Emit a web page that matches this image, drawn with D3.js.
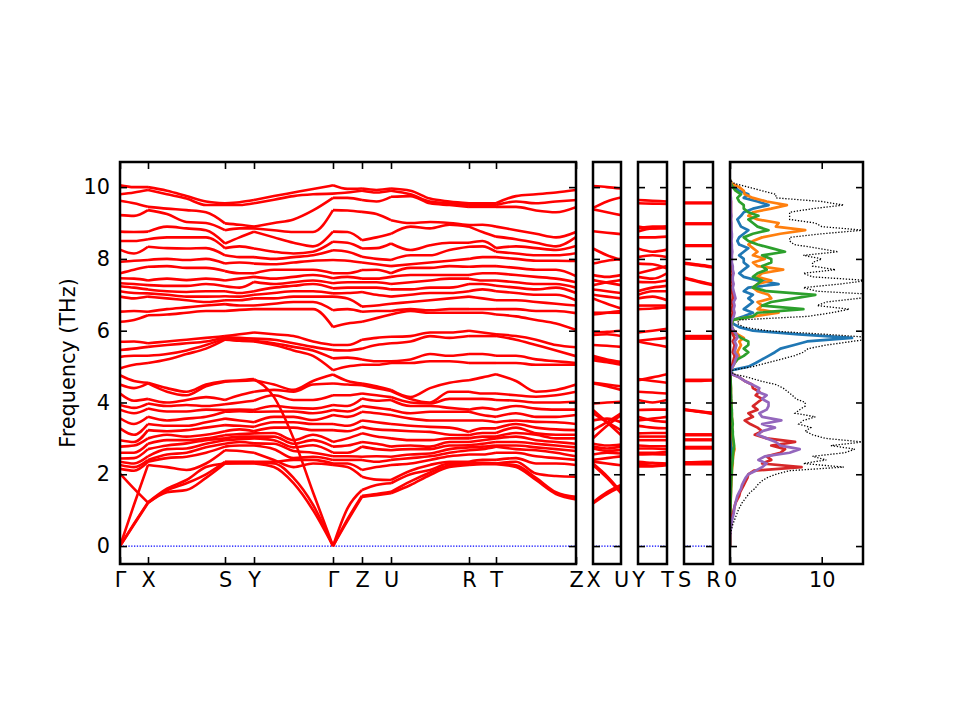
<!DOCTYPE html>
<html>
<head>
<meta charset="utf-8">
<script src="https://cdn.jsdelivr.net/npm/d3@7"></script>
<style>
  body { margin: 0; background: #fff; }
  svg { font-family: "DejaVu Sans", sans-serif; }
</style>
</head>
<body>
<div id="svg-area"></div>
<script>
var svgWidth = 960;
var svgHeight = 720;

// high-symmetry path
var pathLabels = ["Γ", "X", "S", "Y", "Γ", "Z", "U", "R", "T", "Z"];
var pathTicks = [0, 0.28, 1.05, 1.34, 2.13, 2.42, 2.71, 3.49, 3.76, 4.56];
// sampled q positions along the path (labels sit at index 0,2,6,8,12,14,16,20,22,26)
var kPoints = [0, 0.14, 0.28, 0.47, 0.665, 0.86, 1.05, 1.195, 1.34, 1.54, 1.735, 1.93, 2.13,
  2.275, 2.42, 2.565, 2.71, 2.905, 3.10, 3.295, 3.49, 3.625, 3.76, 3.96, 4.16, 4.36, 4.56];
var labelIndex = [0, 2, 6, 8, 12, 14, 16, 20, 22, 26];

// frequencies (THz) at each q point, lower group of branches
var lowBands = [
  [0, 0, 0, 2.02, 2.15, 2.26, 2.35, 2.44, 2.6, 2.77, 2.95, 3.28, 3.56, 3.8, 3.93, 4.25, 4.5, 4.76],
  [0.6, 0.62, 1.15, 1.6, 2.1, 2.2, 2.3, 2.45, 2.6, 2.8, 2.9, 3.1, 3.4, 3.7, 3.85, 4.05, 4.4, 4.6],
  [1.2, 1.22, 2.26, 1.21, 2.35, 2.4, 2.5, 2.7, 2.85, 3.0, 3.23, 3.4, 3.6, 3.83, 3.97, 4.1, 4.53, 4.55],
  [1.5, 1.6, 2.2, 1.55, 2.45, 2.55, 2.7, 2.8, 2.95, 3.1, 3.2, 3.35, 3.5, 3.75, 3.9, 4.0, 4.3, 4.4],
  [1.56, 1.84, 2.12, 1.75, 2.49, 2.6, 2.72, 2.86, 2.95, 3.05, 3.23, 3.35, 3.55, 3.75, 3.93, 4.07, 4.2, 4.3],
  [1.9, 2.2, 2.3, 2.0, 2.6, 2.75, 2.85, 2.95, 3.0, 3.1, 3.3, 3.45, 3.6, 3.8, 3.9, 4.15, 4.45, 4.5],
  [2.3, 2.3, 2.67, 2.35, 2.77, 2.85, 2.95, 3.0, 3.09, 3.2, 3.37, 3.55, 3.74, 3.79, 3.95, 4.07, 4.58, 4.6],
  [2.3, 2.32, 2.65, 2.35, 2.8, 2.9, 2.98, 3.05, 3.12, 3.25, 3.35, 3.5, 3.76, 3.8, 4.0, 4.2, 4.6, 4.62],
  [2.3, 2.32, 2.6, 2.35, 2.8, 2.86, 3.0, 3.05, 3.14, 3.2, 3.32, 3.45, 3.74, 3.79, 4.05, 4.3, 4.62, 4.65],
  [2.2, 2.3, 2.4, 2.35, 2.7, 2.85, 2.95, 3.05, 3.15, 3.3, 3.45, 3.6, 3.75, 3.9, 4.2, 4.35, 4.5, 4.15],
  [1.75, 1.9, 2.2, 2.4, 2.45, 2.65, 2.75, 2.85, 2.95, 3.3, 3.45, 3.6, 3.75, 3.85, 4.07, 4.3, 4.35, 3.0],
  [1.0, 1.15, 2.3, 2.4, 2.49, 2.6, 2.81, 2.95, 3.1, 3.23, 3.4, 3.51, 3.7, 3.83, 4.07, 4.5, 4.6, 1.5],
  [0, 0, 2.26, 2.3, 2.4, 2.5, 2.6, 2.77, 2.9, 3.23, 3.4, 3.65, 3.79, 3.93, 4.2, 4.53, 4.78, 0],
  [0.7, 0.75, 2.2, 2.3, 2.4, 2.5, 2.6, 2.8, 3.0, 3.2, 3.35, 3.6, 3.75, 3.9, 4.2, 4.5, 4.6, 1.05],
  [1.37, 1.4, 1.93, 2.12, 2.4, 2.49, 2.77, 2.9, 3.14, 3.32, 3.5, 3.74, 3.9, 4.11, 4.25, 4.48, 4.53, 1.56],
  [1.42, 1.45, 1.85, 2.2, 2.35, 2.5, 2.7, 2.85, 3.05, 3.25, 3.45, 3.7, 3.85, 4.05, 4.2, 4.4, 4.45, 1.7],
  [1.47, 1.51, 1.84, 2.26, 2.4, 2.49, 2.67, 2.77, 3.0, 3.23, 3.4, 3.65, 3.8, 4.07, 4.15, 4.32, 4.35, 1.75],
  [1.7, 1.8, 2.1, 2.3, 2.45, 2.55, 2.7, 2.8, 2.95, 3.2, 3.35, 3.55, 3.7, 3.9, 4.0, 4.1, 4.15, 2.0],
  [1.98, 2.05, 2.26, 2.4, 2.5, 2.58, 2.7, 2.77, 2.95, 3.18, 3.32, 3.5, 3.74, 3.9, 3.97, 4.0, 4.4, 2.12],
  [2.2, 2.25, 2.35, 2.5, 2.6, 2.7, 2.8, 2.9, 3.0, 3.1, 3.3, 3.5, 3.74, 3.85, 4.1, 4.3, 4.55, 2.3],
  [2.26, 2.3, 2.35, 2.55, 2.67, 2.75, 2.81, 2.9, 3.0, 3.09, 3.18, 3.5, 3.74, 3.8, 4.1, 4.3, 4.62, 2.3],
  [2.28, 2.3, 2.4, 2.55, 2.7, 2.77, 2.85, 2.95, 3.05, 3.15, 3.28, 3.5, 3.65, 3.85, 4.1, 4.25, 4.7, 2.32],
  [2.28, 2.3, 2.4, 2.6, 2.77, 2.8, 2.9, 3.0, 3.05, 3.15, 3.28, 3.45, 3.6, 3.8, 4.07, 4.25, 4.79, 2.3],
  [2.2, 2.25, 2.45, 2.6, 2.7, 2.8, 2.9, 3.05, 3.15, 3.3, 3.4, 3.5, 3.7, 3.9, 4.05, 4.2, 4.6, 2.35],
  [1.84, 1.9, 2.3, 2.5, 2.67, 2.75, 2.85, 2.95, 3.1, 3.14, 3.3, 3.46, 3.6, 3.83, 4.0, 4.16, 4.3, 2.02],
  [1.45, 1.5, 2.3, 2.45, 2.6, 2.7, 2.8, 2.9, 3.0, 3.1, 3.25, 3.45, 3.6, 3.8, 4.0, 4.2, 4.35, 1.95],
  [1.3, 1.37, 2.26, 2.4, 2.5, 2.65, 2.75, 2.85, 3.0, 3.1, 3.23, 3.4, 3.65, 3.8, 4.02, 4.3, 4.5, 1.93]
];

// frequencies (THz) at each q point, upper group of branches
var highBands = [
  [4.95, 5.27, 5.46, 5.69, 6.25, 6.53, 6.95, 7.1, 7.24, 7.32, 7.46, 7.6, 7.92, 8.26, 8.5, 8.76, 9.22, 9.62, 9.8, 10.05],
  [5.05, 5.3, 5.5, 5.7, 6.3, 6.55, 6.9, 7.05, 7.2, 7.3, 7.45, 7.7, 7.95, 8.15, 8.5, 8.75, 9.2, 9.55, 9.85, 10.0],
  [5.1, 5.3, 5.55, 5.65, 6.43, 6.53, 6.95, 7.04, 7.15, 7.27, 7.4, 7.78, 7.97, 8.34, 8.55, 8.76, 9.36, 9.45, 9.92, 10.0],
  [5.2, 5.35, 5.6, 5.7, 6.45, 6.6, 6.9, 7.0, 7.1, 7.25, 7.45, 7.8, 8.0, 8.3, 8.6, 8.9, 9.25, 9.4, 9.8, 9.9],
  [5.35, 5.45, 5.65, 5.75, 6.5, 6.65, 6.85, 6.95, 7.08, 7.25, 7.41, 7.75, 7.97, 8.29, 8.6, 8.85, 9.03, 9.36, 9.68, 9.75],
  [5.5, 5.6, 5.7, 5.8, 6.55, 6.7, 6.8, 6.95, 7.1, 7.3, 7.45, 7.75, 8.0, 8.3, 8.6, 8.8, 9.0, 9.3, 9.5, 9.6],
  [5.75, 5.78, 5.82, 5.85, 6.55, 6.74, 6.85, 6.96, 7.1, 7.24, 7.4, 7.66, 7.87, 8.1, 8.3, 8.43, 8.8, 8.99, 9.5, 9.55],
  [5.72, 5.75, 5.8, 5.9, 6.58, 6.7, 6.85, 6.95, 7.05, 7.2, 7.45, 7.6, 7.9, 8.05, 8.35, 8.6, 8.85, 8.95, 9.5, 9.58],
  [5.7, 5.72, 5.78, 5.95, 6.6, 6.7, 6.9, 7.0, 7.1, 7.36, 7.5, 7.6, 7.87, 8.05, 8.29, 8.76, 8.85, 8.9, 9.55, 9.64],
  [5.6, 5.65, 5.75, 5.9, 6.6, 6.75, 6.9, 7.05, 7.2, 7.3, 7.45, 7.7, 7.85, 8.0, 8.2, 8.6, 8.8, 9.0, 9.65, 9.75],
  [5.45, 5.55, 5.65, 5.85, 6.6, 6.8, 6.95, 7.1, 7.25, 7.35, 7.5, 7.7, 7.9, 8.05, 8.15, 8.45, 8.75, 9.1, 9.75, 9.85],
  [5.3, 5.45, 5.55, 5.7, 6.6, 6.8, 6.95, 7.1, 7.3, 7.4, 7.55, 7.7, 7.95, 8.1, 8.2, 8.35, 8.75, 9.35, 9.8, 9.95],
  [4.9, 5.23, 5.46, 5.6, 6.1, 6.57, 6.95, 7.04, 7.18, 7.32, 7.46, 7.6, 7.97, 8.24, 8.48, 8.76, 9.36, 9.7, 9.82, 10.05],
  [5.0, 5.25, 5.45, 5.6, 6.2, 6.6, 6.9, 7.05, 7.2, 7.35, 7.5, 7.6, 7.95, 8.2, 8.45, 8.75, 9.35, 9.7, 9.85, 9.95],
  [5.05, 5.2, 5.5, 5.75, 6.25, 6.53, 6.67, 7.08, 7.2, 7.35, 7.45, 7.69, 7.9, 8.06, 8.29, 8.52, 9.31, 9.64, 9.9, 9.96],
  [5.05, 5.15, 5.6, 5.8, 6.35, 6.55, 6.7, 7.0, 7.2, 7.35, 7.45, 7.7, 7.85, 8.0, 8.3, 8.6, 9.25, 9.6, 9.85, 9.92],
  [5.1, 5.15, 5.65, 5.83, 6.45, 6.55, 6.75, 6.95, 7.15, 7.3, 7.5, 7.6, 7.8, 7.97, 8.43, 8.7, 9.08, 9.73, 9.9, 9.96],
  [5.1, 5.2, 5.7, 5.85, 6.55, 6.6, 6.8, 7.0, 7.15, 7.35, 7.55, 7.75, 7.85, 8.1, 8.25, 8.9, 9.0, 9.75, 9.8, 9.9],
  [5.15, 5.35, 5.85, 5.95, 6.5, 6.57, 6.85, 7.05, 7.2, 7.4, 7.55, 7.75, 7.9, 8.1, 8.38, 8.85, 9.03, 9.55, 9.6, 9.68],
  [5.15, 5.3, 5.8, 5.95, 6.5, 6.6, 6.9, 7.05, 7.2, 7.45, 7.55, 7.8, 7.95, 8.25, 8.45, 8.95, 9.0, 9.5, 9.55, 9.6],
  [5.1, 5.35, 5.85, 6.0, 6.5, 6.6, 6.95, 7.1, 7.3, 7.45, 7.55, 7.78, 8.0, 8.34, 8.45, 8.9, 8.94, 9.45, 9.5, 9.55],
  [5.1, 5.35, 5.85, 5.95, 6.5, 6.6, 6.9, 7.15, 7.3, 7.4, 7.6, 7.8, 8.05, 8.35, 8.5, 8.75, 8.95, 9.45, 9.5, 9.55],
  [5.1, 5.3, 5.85, 5.9, 6.45, 6.6, 6.85, 7.1, 7.25, 7.4, 7.6, 7.8, 8.05, 8.2, 8.3, 8.62, 8.9, 9.45, 9.5, 9.55],
  [5.1, 5.3, 5.75, 5.85, 6.4, 6.6, 6.85, 7.05, 7.2, 7.35, 7.55, 7.75, 8.0, 8.15, 8.35, 8.55, 8.8, 9.45, 9.6, 9.75],
  [5.05, 5.2, 5.6, 5.75, 6.3, 6.55, 6.8, 7.0, 7.15, 7.3, 7.5, 7.7, 7.95, 8.1, 8.3, 8.45, 8.7, 9.35, 9.55, 9.8],
  [5.05, 5.15, 5.45, 5.6, 6.2, 6.55, 6.75, 7.0, 7.2, 7.3, 7.45, 7.7, 7.95, 8.1, 8.25, 8.35, 8.6, 9.3, 9.6, 9.85],
  [5.05, 5.1, 5.29, 5.54, 6.02, 6.49, 6.7, 6.85, 7.05, 7.2, 7.35, 7.52, 7.94, 8.16, 8.36, 8.61, 8.75, 9.44, 9.64, 9.92]
];

// side panels: each row is one branch, [start, middle, end]
var panelK = [0, 0.5, 1];
var panelXU = [
  [1.19, 1.45, 1.65], [1.22, 1.5, 1.7], [2.26, 1.9, 1.47], [2.3, 1.95, 1.51],
  [2.35, 2.3, 2.25], [2.4, 2.45, 2.5], [2.55, 2.6, 2.58], [2.72, 2.65, 2.68],
  [2.77, 2.72, 2.77], [2.85, 2.8, 2.83], [3.0, 3.35, 3.65], [3.23, 3.45, 3.7],
  [3.79, 3.45, 3.09], [3.7, 3.45, 3.23], [3.5, 3.55, 3.45], [3.97, 4.0, 4.02],
  [4.53, 4.45, 4.35], [4.55, 4.5, 4.45],
  [5.18, 5.12, 5.05], [5.25, 5.15, 5.09], [5.3, 5.2, 5.13], [5.6, 5.58, 5.55],
  [5.88, 5.9, 5.85], [5.95, 5.97, 6.0], [6.45, 6.5, 6.55], [6.5, 6.5, 6.5],
  [6.9, 6.75, 6.62], [7.0, 6.95, 6.9], [7.15, 7.1, 7.05], [7.27, 7.35, 7.41],
  [7.41, 7.34, 7.27], [7.55, 7.5, 7.55], [7.87, 7.95, 8.0], [8.29, 8.1, 7.97],
  [8.77, 8.73, 8.69], [9.38, 9.3, 9.22], [9.42, 9.6, 9.71], [10.03, 10.0, 9.96]
];
var panelYT = [
  [2.22, 2.22, 2.25], [2.28, 2.3, 2.28], [2.35, 2.32, 2.3], [2.55, 2.56, 2.55],
  [2.6, 2.6, 2.62], [2.72, 2.72, 2.7], [2.8, 2.78, 2.78], [2.95, 2.95, 2.95],
  [3.05, 3.05, 3.05], [3.14, 3.15, 3.15], [3.35, 3.3, 3.28], [3.5, 3.55, 3.6],
  [3.6, 3.5, 3.46], [3.79, 3.8, 3.8], [4.07, 4.0, 4.07], [4.3, 4.28, 4.25],
  [4.62, 4.7, 4.79], [4.65, 4.6, 4.55],
  [5.7, 5.62, 5.55], [5.72, 5.76, 5.8], [5.95, 6.0, 6.05], [6.6, 6.62, 6.65],
  [6.7, 6.7, 6.7], [6.9, 6.95, 6.85], [7.0, 7.1, 7.1], [7.1, 7.2, 7.25],
  [7.36, 7.35, 7.4], [7.5, 7.45, 7.6], [7.6, 7.7, 7.8], [7.87, 7.85, 7.73],
  [8.05, 8.1, 8.05], [8.29, 8.2, 8.26], [8.6, 8.6, 8.62], [8.76, 8.85, 8.85],
  [8.85, 8.9, 8.9], [8.9, 8.85, 8.9], [9.55, 9.54, 9.53], [9.64, 9.62, 9.6]
];
var panelSR = [
  [2.28, 2.28, 2.28], [2.3, 2.3, 2.3], [2.31, 2.31, 2.31], [2.33, 2.34, 2.35],
  [2.72, 2.72, 2.72], [2.74, 2.74, 2.75], [2.76, 2.76, 2.76], [2.95, 2.95, 2.95],
  [2.97, 2.97, 2.97], [3.09, 3.09, 3.09], [3.1, 3.1, 3.1], [3.11, 3.11, 3.11],
  [3.79, 3.74, 3.68], [3.8, 3.75, 3.7], [3.81, 3.76, 3.71], [4.6, 4.6, 4.62],
  [4.62, 4.62, 4.62], [4.63, 4.63, 4.63],
  [5.78, 5.78, 5.78], [5.8, 5.8, 5.8], [5.83, 5.83, 5.83], [5.85, 5.85, 5.85],
  [6.6, 6.6, 6.6], [6.62, 6.62, 6.62], [6.64, 6.64, 6.64], [7.02, 7.02, 7.02],
  [7.04, 7.04, 7.04], [7.06, 7.06, 7.06], [7.46, 7.36, 7.27], [7.48, 7.38, 7.29],
  [7.87, 7.82, 7.76], [7.89, 7.84, 7.78], [8.36, 8.36, 8.36], [8.38, 8.38, 8.38],
  [8.97, 8.97, 8.97], [8.99, 8.99, 8.99], [9.55, 9.55, 9.55], [9.57, 9.57, 9.57]
];

// density of states, sampled every 0.1 THz from 0 to 10.2
var dosFreq = d3.range(103).map(function(i) { return i / 10; });
var dosTotal = [
  0, 0, 0, 0.05, 0.1, 0.2, 0.3, 0.45, 0.6, 0.75,
  0.9, 1.1, 1.3, 1.6, 1.9, 2.2, 2.7, 3.0, 3.4, 4.0,
  5.0, 6.5, 12.4, 8.0, 10.5, 9.0, 12.5, 13.6, 11.0, 14.5,
  10.4, 9.0, 8.2, 8.8, 7.5, 8.0, 9.3, 7.1, 7.6, 8.2,
  8.2, 7.2, 6.8, 6.3, 5.8, 5.0, 3.3, 2.0, 0.3, 0.3,
  2.5, 4.0, 5.5, 7.0, 8.0, 8.5, 10.5, 13.3, 16.0, 10.4,
  4.0, 1.5, 0.8, 1.0, 8.5, 11.1, 13.0, 9.5, 10.5, 14.0,
  16.5, 9.5, 8.0, 12.0, 15.0, 9.0, 8.0, 11.5, 9.0, 9.0,
  10.0, 8.0, 11.8, 9.5, 7.0, 6.5, 6.5, 10.0, 14.5, 10.0,
  9.3, 6.5, 6.5, 6.5, 9.0, 12.4, 10.0, 5.0, 5.0, 3.5,
  2.0, 0.5, 0
];
var dosBlue = [
  0, 0, 0, 0, 0, 0, 0, 0.01, 0.02, 0.03,
  0.04, 0.05, 0.05, 0.06, 0.07, 0.08, 0.08, 0.09, 0.1, 0.1,
  0.1, 0.1, 0.15, 0.15, 0.1, 0.15, 0.2, 0.2, 0.15, 0.2,
  0.15, 0.1, 0.1, 0.1, 0.1, 0.15, 0.1, 0.1, 0.15, 0.1,
  0.1, 0.1, 0.1, 0.05, 0.05, 0.05, 0.05, 0.05, 0.05, 0.2,
  2.0, 2.8, 3.5, 4.2, 4.9, 5.5, 7.0, 8.4, 13.3, 7.5,
  2.5, 1.0, 0.3, 0.3, 1.5, 2.5, 1.5, 2.0, 2.5, 2.0,
  2.5, 1.5, 2.0, 5.3, 3.0, 1.5, 1.0, 1.5, 2.0, 1.5,
  1.5, 1.0, 1.5, 2.0, 1.0, 0.8, 1.0, 1.5, 2.0, 1.2,
  1.0, 0.8, 1.2, 1.5, 2.5, 4.2, 3.0, 1.5, 2.0, 1.0,
  0.5, 0.1, 0
];
var dosOrange = [
  0, 0, 0, 0, 0, 0, 0, 0.01, 0.02, 0.03,
  0.05, 0.06, 0.07, 0.08, 0.1, 0.1, 0.12, 0.14, 0.15, 0.18,
  0.2, 0.2, 0.25, 0.3, 0.3, 0.35, 0.4, 0.5, 0.4, 0.35,
  0.3, 0.25, 0.3, 0.25, 0.2, 0.25, 0.2, 0.2, 0.15, 0.15,
  0.15, 0.1, 0.1, 0.1, 0.1, 0.08, 0.06, 0.05, 0.05, 0.1,
  0.3, 0.5, 0.8, 1.0, 0.8, 1.0, 1.2, 1.0, 1.5, 0.8,
  0.4, 0.2, 0.2, 0.3, 2.5, 5.3, 3.0, 3.5, 3.0, 4.5,
  4.2, 3.0, 2.5, 3.0, 4.5, 3.0, 3.5, 5.8, 3.0, 2.5,
  3.8, 2.5, 3.0, 2.5, 2.0, 2.5, 3.5, 5.5, 8.2, 5.0,
  5.3, 3.0, 2.0, 2.5, 4.5, 6.2, 4.0, 2.5, 1.6, 1.5,
  1.0, 0.2, 0
];
var dosGreen = [
  0, 0, 0, 0, 0, 0, 0.01, 0.01, 0.02, 0.03,
  0.04, 0.05, 0.06, 0.07, 0.08, 0.1, 0.1, 0.12, 0.13, 0.15,
  0.18, 0.2, 0.2, 0.25, 0.3, 0.3, 0.35, 0.4, 0.45, 0.4,
  0.35, 0.3, 0.3, 0.25, 0.3, 0.25, 0.2, 0.2, 0.2, 0.15,
  0.15, 0.12, 0.1, 0.1, 0.1, 0.08, 0.07, 0.05, 0.05, 0.1,
  0.2, 0.5, 0.8, 1.5, 2.0, 1.5, 2.0, 2.0, 1.2, 0.6,
  0.4, 0.2, 0.2, 0.3, 2.5, 3.0, 8.0, 3.5, 4.5, 7.0,
  9.3, 4.0, 2.5, 3.0, 3.5, 2.5, 3.0, 4.0, 3.5, 4.5,
  4.5, 3.5, 6.0, 4.5, 3.0, 2.0, 1.5, 2.5, 4.2, 3.0,
  2.5, 2.0, 3.1, 2.0, 1.5, 1.5, 1.0, 0.8, 1.2, 0.6,
  0.3, 0.1, 0
];
var dosRed = [
  0, 0, 0, 0, 0.02, 0.05, 0.1, 0.15, 0.2, 0.3,
  0.4, 0.5, 0.6, 0.8, 1.0, 1.1, 1.3, 1.5, 1.7, 1.9,
  2.0, 2.6, 7.8, 3.5, 4.5, 4.0, 5.5, 6.0, 4.5, 7.1,
  4.0, 2.7, 3.5, 3.0, 2.2, 1.6, 2.5, 2.0, 3.0, 2.5,
  3.0, 3.5, 2.8, 3.2, 2.5, 2.4, 1.6, 1.0, 0.1, 0.05,
  0.2, 0.3, 0.4, 0.5, 0.3, 0.4, 0.5, 0.3, 0.5, 0.3,
  0.2, 0.1, 0.1, 0.1, 0.2, 0.3, 0.2, 0.3, 0.2, 0.3,
  0.3, 0.2, 0.2, 0.3, 0.2, 0.2, 0.3, 0.2, 0.2, 0.1,
  0.1, 0.1, 0.15, 0.1, 0.1, 0.1, 0.1, 0.15, 0.1, 0.1,
  0.1, 0.1, 0.1, 0.1, 0.1, 0.1, 0.1, 0.05, 0.05, 0.05,
  0.02, 0, 0
];
var dosPurple = [
  0, 0, 0, 0.02, 0.05, 0.1, 0.15, 0.2, 0.3, 0.4,
  0.45, 0.5, 0.6, 0.7, 0.8, 1.0, 1.2, 1.3, 1.5, 1.7,
  2.0, 2.8, 3.5, 4.0, 3.1, 3.8, 6.5, 7.6, 5.5, 5.0,
  4.0, 3.0, 3.5, 4.9, 3.5, 5.6, 3.5, 3.2, 4.0, 4.2,
  4.2, 3.5, 4.0, 3.0, 3.2, 2.4, 1.6, 1.0, 0.1, 0.05,
  0.3, 0.5, 0.6, 0.8, 0.5, 0.6, 0.7, 0.5, 0.8, 0.7,
  0.4, 0.2, 0.1, 0.2, 0.4, 0.5, 0.4, 0.5, 0.4, 0.6,
  0.5, 0.4, 0.3, 0.4, 0.3, 0.3, 0.4, 0.3, 0.3, 0.2,
  0.2, 0.2, 0.25, 0.2, 0.2, 0.15, 0.2, 0.2, 0.15, 0.15,
  0.15, 0.1, 0.15, 0.1, 0.1, 0.1, 0.1, 0.1, 0.05, 0.05,
  0.02, 0, 0
];
var dosSeries = [
  { values: dosBlue, color: "#1f77b4" },
  { values: dosOrange, color: "#ff7f0e" },
  { values: dosGreen, color: "#2ca02c" },
  { values: dosRed, color: "#d62728" },
  { values: dosPurple, color: "#9467bd" }
];
var yTickValues = [0, 2, 4, 6, 8, 10];
var dosTickValues = [0, 10];

// layout
var plotTop = 162, plotBottom = 564;
var mainBox = { x0: 120, x1: 576 };
var panels = [
  { x0: 593, x1: 621, labels: ["X", "U"], data: panelXU },
  { x0: 638, x1: 667, labels: ["Y", "T"], data: panelYT },
  { x0: 684, x1: 713, labels: ["S", "R"], data: panelSR }
];
var dosBox = { x0: 730, x1: 863 };
var fontSize = "20.8px";

var svg = d3.select("#svg-area")
  .append("svg")
  .attr("width", svgWidth)
  .attr("height", svgHeight);

var yScale = d3.scaleLinear().domain([-0.5, 10.7]).range([plotBottom, plotTop]);

function addClip(id, x0, x1) {
  svg.append("clipPath").attr("id", id)
    .append("rect")
    .attr("x", x0).attr("y", plotTop)
    .attr("width", x1 - x0).attr("height", plotBottom - plotTop);
}

function styleAxis(g) {
  g.select(".domain").remove();
  g.selectAll(".tick line").attr("stroke-width", 1.6);
  g.selectAll("text").attr("font-size", fontSize).attr("font-family", "DejaVu Sans").attr("fill", "#000");
}

function drawYAxes(x0, x1, withLabels) {
  var left = d3.axisLeft(yScale).tickValues(yTickValues)
    .tickSizeInner(-7).tickSizeOuter(0).tickPadding(10);
  if (!withLabels) left.tickFormat("");
  svg.append("g").attr("transform", "translate(" + x0 + ",0)").call(left).call(styleAxis);
  var right = d3.axisRight(yScale).tickValues(yTickValues)
    .tickSizeInner(-7).tickSizeOuter(0).tickFormat("");
  svg.append("g").attr("transform", "translate(" + x1 + ",0)").call(right).call(styleAxis);
}

function drawFrame(x0, x1) {
  svg.append("rect")
    .attr("x", x0).attr("y", plotTop)
    .attr("width", x1 - x0).attr("height", plotBottom - plotTop)
    .attr("fill", "none").attr("stroke", "black").attr("stroke-width", 2.5);
}

function drawZeroLine(g, x0, x1) {
  g.append("line")
    .attr("x1", x0).attr("x2", x1)
    .attr("y1", yScale(0)).attr("y2", yScale(0))
    .attr("stroke", "#0000ff").attr("stroke-width", 1.3)
    .attr("stroke-dasharray", "1.3,1.5");
}

var bandLine = function(xs) {
  return d3.line()
    .x(function(d) { return xs(d[0]); })
    .y(function(d) { return yScale(d[1]); })
    .curve(d3.curveMonotoneX);
};

// ---- main band structure ----
var xMain = d3.scaleLinear().domain([0, 4.56]).range([mainBox.x0, mainBox.x1]);
addClip("clip-main", mainBox.x0, mainBox.x1);
var gMain = svg.append("g").attr("clip-path", "url(#clip-main)");
drawZeroLine(gMain, mainBox.x0, mainBox.x1);

var mainFreqs = lowBands.map(function(row, i) { return row.concat(highBands[i]); });
var nBands = mainFreqs[0].length;
var makeMainLine = bandLine(xMain);
for (var s = 0; s < labelIndex.length - 1; s++) {
  for (var b = 0; b < nBands; b++) {
    var pts = [];
    for (var p = labelIndex[s]; p <= labelIndex[s + 1]; p++) {
      pts.push([kPoints[p], mainFreqs[p][b]]);
    }
    gMain.append("path")
      .attr("d", makeMainLine(pts))
      .attr("fill", "none")
      .attr("stroke", "#ff0000")
      .attr("stroke-width", 2.6);
  }
}

drawYAxes(mainBox.x0, mainBox.x1, true);
svg.append("g").attr("transform", "translate(0," + plotBottom + ")")
  .call(d3.axisBottom(xMain).tickValues(pathTicks)
    .tickFormat(function(d, i) { return pathLabels[i]; })
    .tickSizeInner(-7).tickSizeOuter(0).tickPadding(8))
  .call(styleAxis);
svg.append("g").attr("transform", "translate(0," + plotTop + ")")
  .call(d3.axisTop(xMain).tickValues(pathTicks).tickFormat("")
    .tickSizeInner(-7).tickSizeOuter(0))
  .call(styleAxis);
drawFrame(mainBox.x0, mainBox.x1);

// ---- side panels ----
panels.forEach(function(pan, pi) {
  var xs = d3.scaleLinear().domain([0, 1]).range([pan.x0, pan.x1]);
  addClip("clip-p" + pi, pan.x0, pan.x1);
  var g = svg.append("g").attr("clip-path", "url(#clip-p" + pi + ")");
  drawZeroLine(g, pan.x0, pan.x1);
  var mk = bandLine(xs);
  pan.data.forEach(function(row) {
    g.append("path")
      .attr("d", mk(row.map(function(f, j) { return [panelK[j], f]; })))
      .attr("fill", "none")
      .attr("stroke", "#ff0000")
      .attr("stroke-width", 2.6);
  });
  drawYAxes(pan.x0, pan.x1, false);
  svg.append("g").attr("transform", "translate(0," + plotBottom + ")")
    .call(d3.axisBottom(xs).tickValues([0, 1])
      .tickFormat(function(d, i) { return pan.labels[i]; })
      .tickSizeInner(0).tickSizeOuter(0).tickPadding(8))
    .call(styleAxis);
  drawFrame(pan.x0, pan.x1);
});

// ---- density of states ----
var xDos = d3.scaleLinear().domain([0, 14.5]).range([dosBox.x0, dosBox.x1]);
addClip("clip-dos", dosBox.x0, dosBox.x1);
var gDos = svg.append("g").attr("clip-path", "url(#clip-dos)");
var dosLine = d3.line()
  .x(function(d) { return xDos(d[1]); })
  .y(function(d) { return yScale(d[0]); });

dosSeries.forEach(function(ser) {
  gDos.append("path")
    .attr("d", dosLine(dosFreq.map(function(f, i) { return [f, ser.values[i]]; })))
    .attr("fill", "none")
    .attr("stroke", ser.color)
    .attr("stroke-width", 2.7)
    .attr("stroke-linejoin", "round");
});
gDos.append("path")
  .attr("d", dosLine(dosFreq.map(function(f, i) { return [f, dosTotal[i]]; })))
  .attr("fill", "none")
  .attr("stroke", "black")
  .attr("stroke-width", 1.3)
  .attr("stroke-dasharray", "1.3,1.7");

drawYAxes(dosBox.x0, dosBox.x1, false);
svg.append("g").attr("transform", "translate(0," + plotBottom + ")")
  .call(d3.axisBottom(xDos).tickValues(dosTickValues).tickFormat(d3.format("d"))
    .tickSizeInner(-7).tickSizeOuter(0).tickPadding(8))
  .call(styleAxis);
svg.append("g").attr("transform", "translate(0," + plotTop + ")")
  .call(d3.axisTop(xDos).tickValues(dosTickValues).tickFormat("")
    .tickSizeInner(-7).tickSizeOuter(0))
  .call(styleAxis);
drawFrame(dosBox.x0, dosBox.x1);

// y axis title
svg.append("text")
  .attr("transform", "translate(75," + ((plotTop + plotBottom) / 2) + ") rotate(-90)")
  .attr("text-anchor", "middle")
  .attr("font-size", fontSize)
  .attr("font-family", "DejaVu Sans")
  .text("Frequency (THz)");
</script>
</body>
</html>
